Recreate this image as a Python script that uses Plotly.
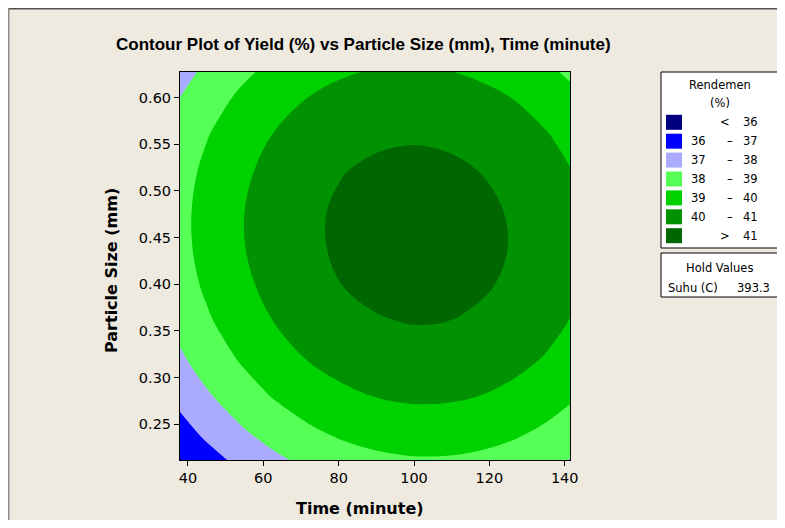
import plotly.graph_objects as go

# ---- data ----
time_min = [36, 45, 54, 63, 72, 81, 90, 99, 108, 117, 126, 135, 144]
particle_mm = [0.20, 0.24, 0.28, 0.32, 0.36, 0.40, 0.44, 0.48, 0.52, 0.56, 0.60, 0.64]
yield_pct = [
    [35.59, 36.36, 37.01, 37.56, 38.01, 38.34, 38.56, 38.68, 38.68, 38.58, 38.37, 38.05, 37.62],
    [36.43, 37.19, 37.84, 38.38, 38.82, 39.14, 39.36, 39.47, 39.47, 39.36, 39.14, 38.81, 38.38],
    [37.13, 37.88, 38.53, 39.07, 39.49, 39.81, 40.02, 40.13, 40.12, 40.00, 39.78, 39.44, 39.00],
    [37.70, 38.44, 39.08, 39.61, 40.04, 40.35, 40.55, 40.65, 40.63, 40.51, 40.28, 39.94, 39.49],
    [38.13, 38.87, 39.50, 40.02, 40.44, 40.75, 40.94, 41.03, 41.01, 40.88, 40.65, 40.30, 39.84],
    [38.42, 39.16, 39.78, 40.30, 40.71, 41.01, 41.20, 41.28, 41.26, 41.12, 40.88, 40.52, 40.06],
    [38.58, 39.31, 39.93, 40.44, 40.84, 41.14, 41.32, 41.40, 41.36, 41.22, 40.97, 40.61, 40.14],
    [38.60, 39.32, 39.94, 40.44, 40.84, 41.13, 41.30, 41.37, 41.33, 41.19, 40.93, 40.56, 40.09],
    [38.49, 39.20, 39.81, 40.31, 40.70, 40.98, 41.15, 41.21, 41.17, 41.01, 40.75, 40.38, 39.90],
    [38.24, 38.95, 39.55, 40.04, 40.42, 40.70, 40.86, 40.92, 40.87, 40.71, 40.44, 40.06, 39.57],
    [37.85, 38.56, 39.15, 39.64, 40.01, 40.28, 40.44, 40.49, 40.43, 40.26, 39.99, 39.60, 39.11],
    [37.33, 38.03, 38.62, 39.09, 39.46, 39.73, 39.88, 39.92, 39.86, 39.68, 39.40, 39.01, 38.51],
]
levels = [36, 37, 38, 39, 40, 41]
band_colors = ["#000080", "#0000FF", "#AAAAFF", "#55FF55", "#00D200", "#009200", "#006600"]
x_ticks = [40, 60, 80, 100, 120, 140]
y_ticks = [0.25, 0.30, 0.35, 0.40, 0.45, 0.50, 0.55, 0.60]
hold_name = "Suhu (C)"
hold_value = "393.3"

BG = "#EEEAE0"
OFF = 8  # the page body adds an 8px margin; figure is laid out in page pixels minus this
W, H = 785 - OFF, 528 - 2 * OFF
L, R, T, B = 180, 570, 72, 460  # plot area in page pixels


def px(x):
    return (x - L) / (R - L)


def py(y):
    return (B - y) / (B - T)


n = len(band_colors) - 1
colorscale = [[i / n, c] for i, c in enumerate(band_colors)]

fig = go.Figure()
fig.add_trace(go.Contour(
    x=time_min, y=particle_mm, z=yield_pct,
    colorscale=colorscale, showscale=False,
    contours=dict(start=levels[0], end=levels[-1], size=levels[1] - levels[0], coloring="fill"),
    line=dict(width=0, smoothing=1),
    hoverinfo="skip",
))

tick_font = dict(family="DejaVu Sans", size=14.5, color="black")
fig.update_xaxes(range=[37.9, 141.4], tickvals=x_ticks, ticks="outside", ticklen=5,
                 tickcolor="black", showline=True, linecolor="black", linewidth=1,
                 mirror=True, showgrid=False, zeroline=False, tickfont=tick_font)
fig.update_yaxes(range=[0.2118, 0.6273], tickvals=y_ticks, tickformat=".2f", ticks="outside",
                 ticklen=5, tickcolor="black", showline=True, linecolor="black", linewidth=1,
                 mirror=True, showgrid=False, zeroline=False, tickfont=tick_font)

shapes = []
annotations = []


def text(x, y, s, size=11.5, bold=False, family="DejaVu Sans", anchor="center", angle=0):
    annotations.append(dict(
        x=px(x), y=py(y), xref="paper", yref="paper", text=s, showarrow=False,
        xanchor=anchor, yanchor="middle", textangle=angle,
        font=dict(family=family, size=size, color="black", weight="bold" if bold else "normal"),
    ))


# outer frame (top & left visible)
shapes.append(dict(type="line", xref="paper", yref="paper", x0=px(8), x1=px(800), y0=py(8.7), y1=py(8.7),
                   line=dict(color="#505050", width=1.5)))
shapes.append(dict(type="line", xref="paper", yref="paper", x0=px(8.7), x1=px(8.7), y0=py(8), y1=py(540),
                   line=dict(color="#8A8A8A", width=1.5)))

# title & axis titles
text(363, 44, "Contour Plot of Yield (%) vs Particle Size (mm), Time (minute)", size=17, bold=True,
     family="Liberation Sans")
text(360, 508, "Time (minute)", size=16, bold=True)
text(111, 271, "Particle Size (mm)", size=16, bold=True, angle=-90)

# legend box
shapes.append(dict(type="rect", xref="paper", yref="paper", x0=px(661), x1=px(778), y0=py(72), y1=py(248),
                   line=dict(color="black", width=1), fillcolor="white"))
text(720, 85, "Rendemen")
text(720, 103, "(%)")
row0, dy = 122.3, 18.9
for i, c in enumerate(band_colors):
    yc = row0 + i * dy
    shapes.append(dict(type="rect", xref="paper", yref="paper", x0=px(666), x1=px(682),
                       y0=py(yc - 7.5), y1=py(yc + 7.5), line=dict(width=0), fillcolor=c))
    if i == 0:
        text(725, yc, "<")
        text(750, yc, str(levels[0]))
    elif i == len(band_colors) - 1:
        text(725, yc, ">")
        text(750, yc, str(levels[-1]))
    else:
        text(698, yc, str(levels[i - 1]))
        text(730, yc, "–")
        text(750, yc, str(levels[i]))

# hold values box
shapes.append(dict(type="rect", xref="paper", yref="paper", x0=px(661), x1=px(778), y0=py(253), y1=py(297),
                   line=dict(color="black", width=1), fillcolor="white"))
text(719, 268, "Hold Values")
text(666, 287.5, hold_name, anchor="left")
text(753, 287.5, hold_value)

fig.update_layout(
    width=W, height=H,
    margin=dict(l=L - OFF, r=(W + OFF) - R, t=T - OFF, b=(H + OFF) - B),
    paper_bgcolor=BG, plot_bgcolor=BG, showlegend=False,
    shapes=shapes, annotations=annotations,
)

fig.write_html("out.html")
